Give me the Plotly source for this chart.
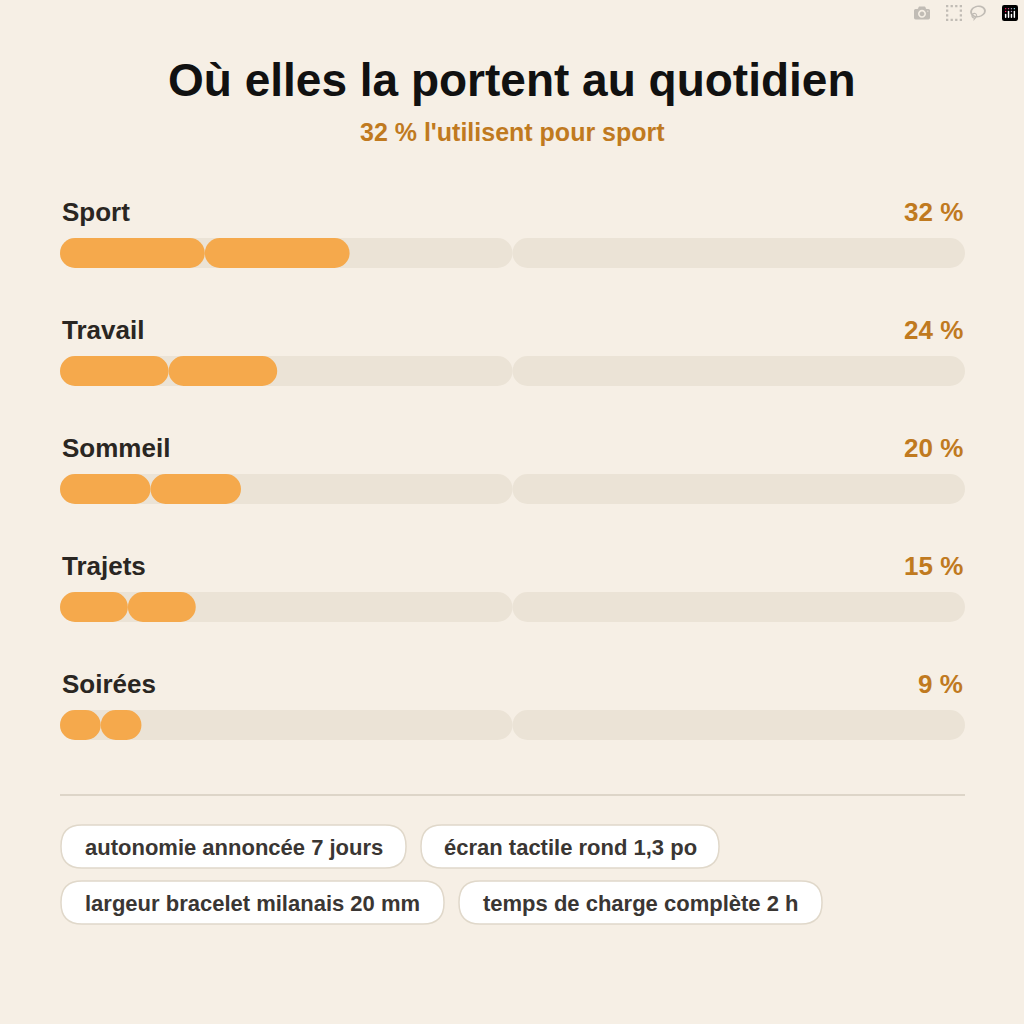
import plotly.graph_objects as go

categories = ["Sport", "Travail", "Sommeil", "Trajets", "Soirées"]
values = [32, 24, 20, 15, 9]
chips = [["autonomie annoncée 7 jours", "écran tactile rond 1,3 po"],
         ["largeur bracelet milanais 20 mm", "temps de charge complète 2 h"]]
chip_widths = [[345, 298], [383, 363]]

W = 1024
ORANGE = "#f5a94c"
TRACK = "#ebe3d6"
ACCENT = "#c07a1f"
FONT = "Liberation Sans, Arial, sans-serif"

bar_y = [253 + 118 * i for i in range(len(categories))]


def pill(vals, color):
    # two halves growing out from the middle, so both ends get rounded
    half = [v / 2 for v in vals]
    out = []
    for sign in (1, -1):
        out.append(go.Bar(x=[sign * h for h in half], base=half, y=bar_y, orientation="h", width=30,
                          marker=dict(color=color, cornerradius=15, line=dict(width=0)),
                          hoverinfo="skip"))
    return out


fig = go.Figure()
for t in pill([100] * len(values), TRACK) + pill(values, ORANGE):
    fig.add_trace(t)

ann = []
ann.append(dict(x=0.5, y=80, xref="paper", yref="y", text="<b>Où elles la portent au quotidien</b>",
                showarrow=False, font=dict(size=46, color="#111111", family=FONT)))
ann.append(dict(x=0.5, y=132, xref="paper", yref="y", text="<b>32 % l'utilisent pour sport</b>",
                showarrow=False, font=dict(size=25, color=ACCENT, family=FONT)))
for c, v, y in zip(categories, values, bar_y):
    ann.append(dict(x=60 / W, y=y - 41, xref="paper", yref="y", text=f"<b>{c}</b>", xanchor="left",
                    showarrow=False, font=dict(size=26, color="#2a2622", family=FONT)))
    ann.append(dict(x=965 / W, y=y - 41, xref="paper", yref="y", text=f"<b>{v} %</b>", xanchor="right",
                    showarrow=False, font=dict(size=26, color=ACCENT, family=FONT)))


def rounded(x0, y0, x1, y1, r):
    fx = lambda p: p / W
    return (f"M {fx(x0 + r)} {y0} L {fx(x1 - r)} {y0} Q {fx(x1)} {y0} {fx(x1)} {y0 + r} "
            f"L {fx(x1)} {y1 - r} Q {fx(x1)} {y1} {fx(x1 - r)} {y1} L {fx(x0 + r)} {y1} "
            f"Q {fx(x0)} {y1} {fx(x0)} {y1 - r} L {fx(x0)} {y0 + r} Q {fx(x0)} {y0} {fx(x0 + r)} {y0} Z")


shapes = [dict(type="line", xref="paper", yref="y", x0=60 / W, x1=965 / W, y0=795, y1=795,
               line=dict(color="#ddd5c8", width=2))]
for row, (texts, widths) in enumerate(zip(chips, chip_widths)):
    x = 61
    y0 = 825 + 56 * row
    for t, w in zip(texts, widths):
        shapes.append(dict(type="path", xref="paper", yref="y", path=rounded(x, y0, x + w, y0 + 43, 21),
                           fillcolor="white", line=dict(color="#e0d8ca", width=1.5), layer="below"))
        ann.append(dict(x=(x + w / 2) / W, y=y0 + 22, xref="paper", yref="y", text=f"<b>{t}</b>",
                        xanchor="center", showarrow=False,
                        font=dict(size=22, color="#3a3633", family=FONT)))
        x += w + 15

fig.update_layout(
    width=W, height=W, margin=dict(l=0, r=0, t=0, b=0),
    paper_bgcolor="#f6efe5", plot_bgcolor="rgba(0,0,0,0)",
    barmode="overlay", showlegend=False,
    xaxis=dict(domain=[60 / W, 965 / W], range=[0, 100], visible=False, fixedrange=True),
    yaxis=dict(range=[W, 0], visible=False, fixedrange=True),
    annotations=ann, shapes=shapes,
)
fig.write_html("out.html", post_script="document.body.style.margin='0';")
